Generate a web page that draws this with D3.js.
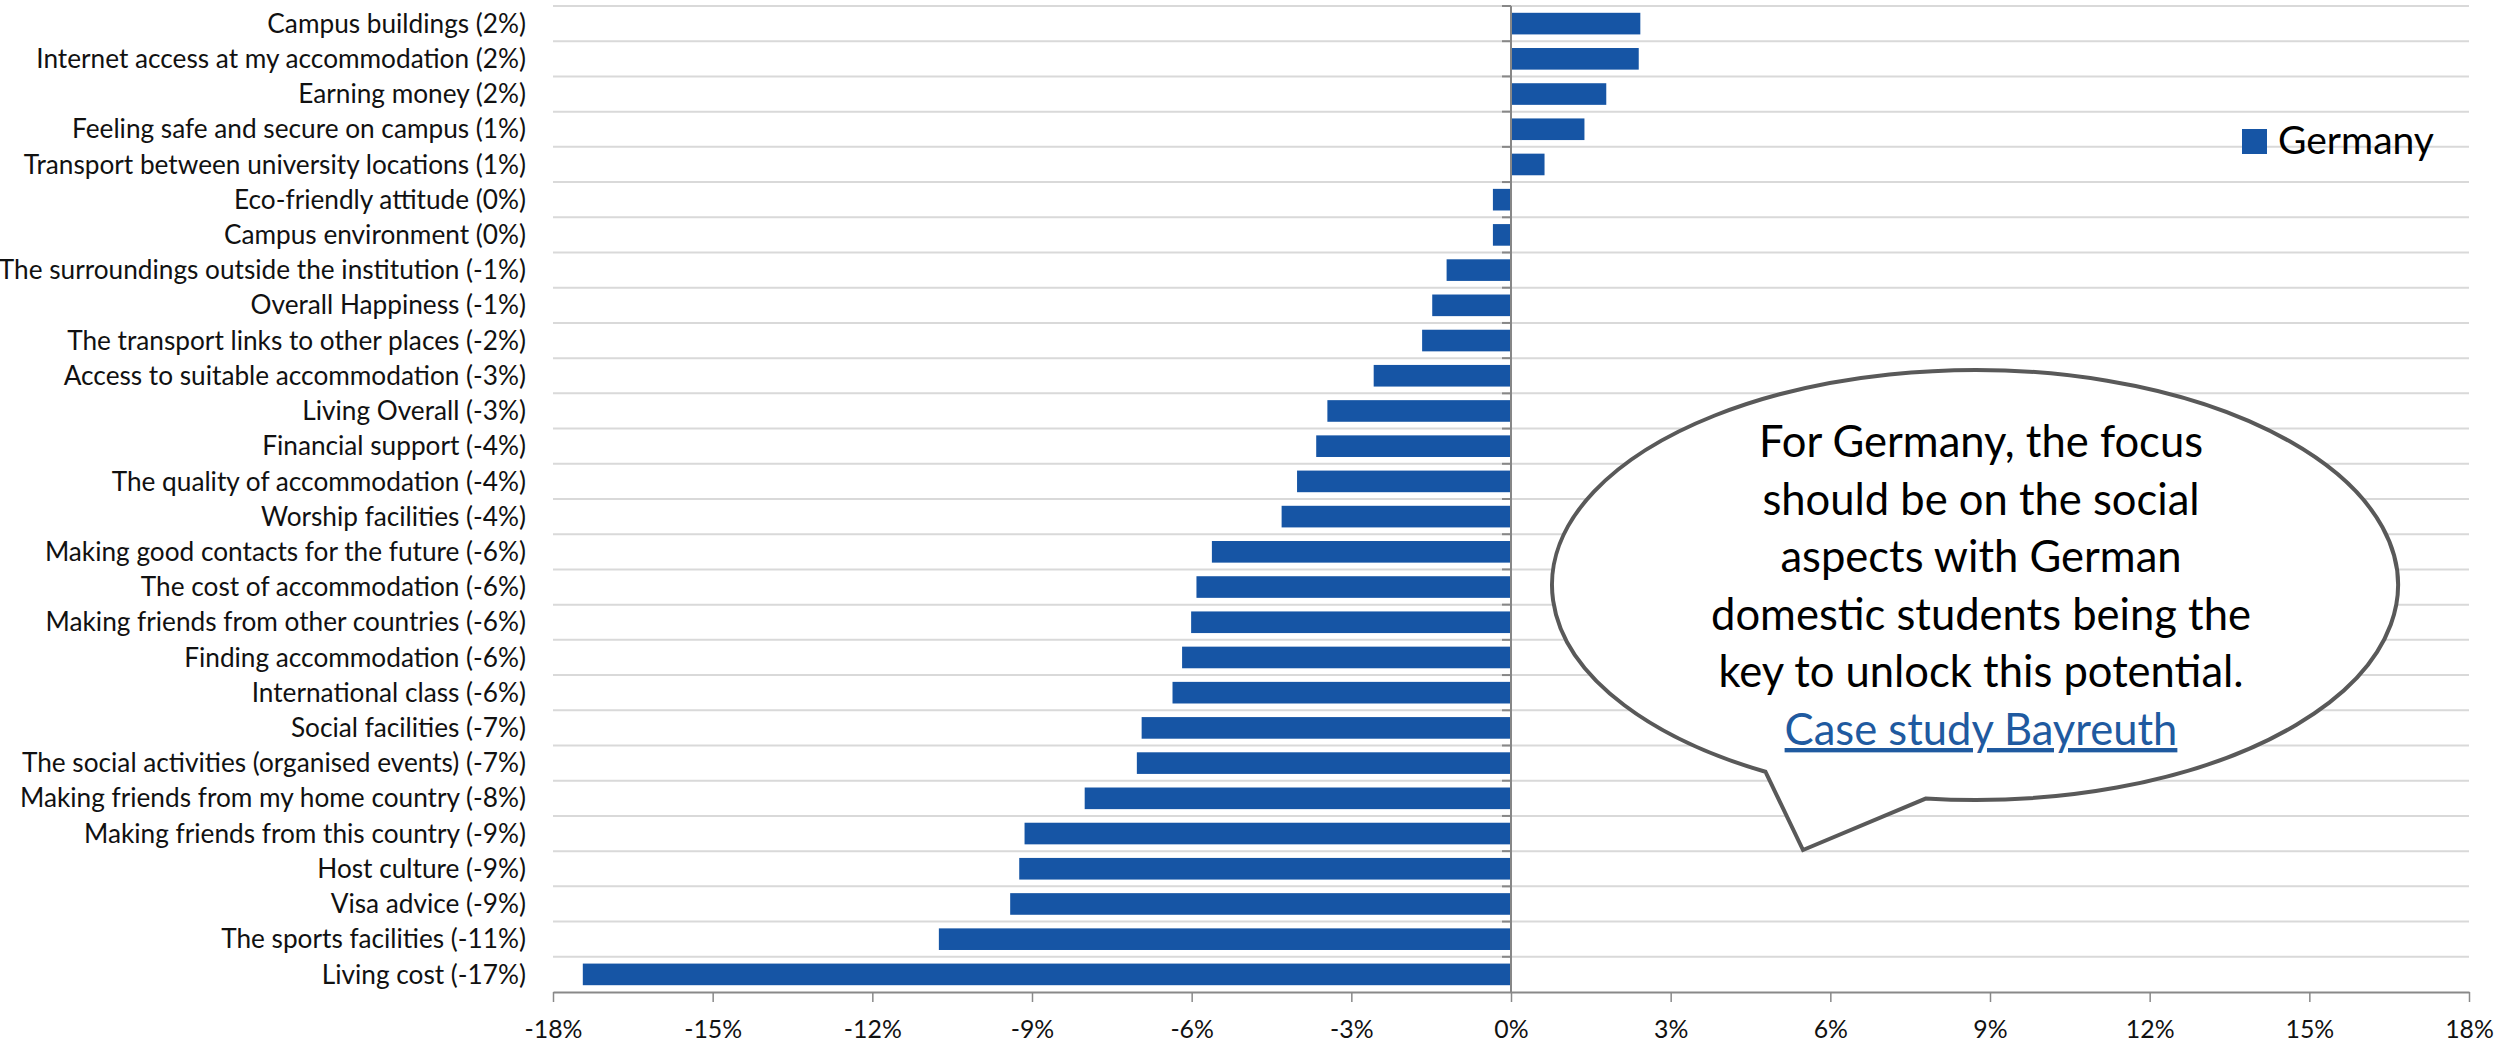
<!DOCTYPE html>
<html>
<head>
<meta charset="utf-8">
<script src="https://cdn.jsdelivr.net/npm/d3@7"></script>
<style>
  html, body { margin: 0; padding: 0; background: #fff; }
  svg { display: block; }
</style>
</head>
<body>
<div id="chart"></div>
<script>
// Change in satisfaction by aspect, Germany (percentage points)
const categories = [
  "Campus buildings",
  "Internet access at my accommodation",
  "Earning money",
  "Feeling safe and secure on campus",
  "Transport between university locations",
  "Eco-friendly attitude",
  "Campus environment",
  "The surroundings outside the institution",
  "Overall Happiness",
  "The transport links to other places",
  "Access to suitable accommodation",
  "Living Overall",
  "Financial support",
  "The quality of accommodation",
  "Worship facilities",
  "Making good contacts for the future",
  "The cost of accommodation",
  "Making friends from other countries",
  "Finding accommodation",
  "International class",
  "Social facilities",
  "The social activities (organised events)",
  "Making friends from my home country",
  "Making friends from this country",
  "Host culture",
  "Visa advice",
  "The sports facilities",
  "Living cost"
];

const germany = [
  2.43, 2.40, 1.79, 1.38, 0.63, -0.34, -0.34, -1.21, -1.48, -1.67,
  -2.58, -3.45, -3.66, -4.02, -4.31, -5.62, -5.91, -6.01, -6.18, -6.36,
  -6.94, -7.03, -8.01, -9.14, -9.24, -9.41, -10.75, -17.44
];

const seriesName = "Germany";
const xTicks = [-18, -15, -12, -9, -6, -3, 0, 3, 6, 9, 12, 15, 18];

const calloutLines = [
  "For Germany, the focus",
  "should be on the social",
  "aspects with German",
  "domestic students being the",
  "key to unlock this potential."
];
const calloutLink = "Case study Bayreuth";

const W = 2501, H = 1043;
const FONT = "Lato, 'Open Sans', sans-serif";
const BAR = "#1655a5";

const svg = d3.select("#chart").append("svg")
  .attr("width", W).attr("height", H)
  .style("font-family", FONT);

// pick a font size that makes a sample string span the given width
function fitSize(sample, width) {
  const t = svg.append("text").attr("font-size", 100).text(sample);
  const w = t.node().getComputedTextLength();
  t.remove();
  return 100 * width / w;
}
const labelSize = fitSize("Internet access at my accommodation (2%)", 490);
const tickSize = fitSize("-18%", 58);
const legendSize = fitSize("Germany", 156);
const noteSize = fitSize("domestic students being the", 540);

const x = d3.scaleLinear().domain([-18, 18]).range([553, 2469]);
const y = d3.scaleBand().domain(categories).range([6, 992])
  .paddingInner(0.386).paddingOuter(0.193);

const fmtPct = v => { const r = Math.round(v); return (r === 0 ? 0 : r) + "%"; };

// horizontal gridlines at category boundaries
const bounds = d3.range(categories.length).map(i => y.range()[0] + i * y.step());
svg.append("g").selectAll("line").data(bounds).join("line")
  .attr("x1", x(-18)).attr("x2", x(18))
  .attr("y1", d => d).attr("y2", d => d)
  .attr("stroke", "#d9d9d9").attr("stroke-width", 2);

// bars
svg.append("g").selectAll("rect").data(categories).join("rect")
  .attr("x", (c, i) => x(Math.min(0, germany[i])))
  .attr("width", (c, i) => Math.abs(x(germany[i]) - x(0)))
  .attr("y", c => y(c))
  .attr("height", y.bandwidth())
  .attr("fill", BAR);

// category labels on the left
svg.append("g").selectAll("text").data(categories).join("text")
  .attr("x", 526)
  .attr("y", c => y(c) + y.bandwidth() / 2)
  .attr("dy", "0.35em")
  .attr("text-anchor", "end")
  .attr("font-size", labelSize)
  .attr("fill", "#111")
  .text((c, i) => `${c} (${fmtPct(germany[i])})`);

// vertical category axis at zero with outward ticks
const yAxisG = svg.append("g");
yAxisG.append("line")
  .attr("x1", x(0)).attr("x2", x(0))
  .attr("y1", y.range()[0]).attr("y2", y.range()[1])
  .attr("stroke", "#878787").attr("stroke-width", 2);
yAxisG.selectAll("line.tick").data(bounds).join("line")
  .attr("class", "tick")
  .attr("x1", x(0) - 9).attr("x2", x(0))
  .attr("y1", d => d).attr("y2", d => d)
  .attr("stroke", "#878787").attr("stroke-width", 2);

// value axis at the bottom
const xAxis = d3.axisBottom(x).tickValues(xTicks)
  .tickFormat(d => d + "%").tickSize(10).tickSizeOuter(0);
const xg = svg.append("g").attr("transform", `translate(0,${y.range()[1]})`).call(xAxis);
xg.select(".domain").attr("stroke", "#898989").attr("stroke-width", 2);
xg.selectAll(".tick line").attr("stroke", "#898989").attr("stroke-width", 1.5);
xg.selectAll(".tick text")
  .attr("y", 46).attr("dy", 0)
  .attr("font-family", FONT).attr("font-size", tickSize).attr("fill", "#111");

// legend
const lg = svg.append("g").attr("transform", "translate(2242,129)");
lg.append("rect").attr("width", 25).attr("height", 25).attr("fill", BAR);
lg.append("text").attr("x", 36).attr("y", 25)
  .attr("font-size", legendSize).attr("fill", "#000").text(seriesName);

// speech-bubble callout
const cx = 1975, cy = 585, rx = 423, ry = 215;
const pt = deg => [cx + rx * Math.cos(deg * Math.PI / 180), cy + ry * Math.sin(deg * Math.PI / 180)];
const tailA = pt(96.7), tailB = pt(119.7), tip = [1803, 850];
const bubble = `M${tailA[0]},${tailA[1]} A${rx},${ry} 0 1 0 ${tailB[0]},${tailB[1]} L${tip[0]},${tip[1]} Z`;
svg.append("path").attr("d", bubble)
  .attr("fill", "#fff").attr("stroke", "#595959").attr("stroke-width", 4)
  .attr("stroke-linejoin", "miter");

const tg = svg.append("g").attr("text-anchor", "middle").attr("font-size", noteSize);
tg.selectAll("text.line").data(calloutLines).join("text")
  .attr("class", "line")
  .attr("x", 1981).attr("y", (d, i) => 457 + i * 57.6)
  .attr("fill", "#000").text(d => d);
tg.append("text")
  .attr("x", 1981).attr("y", 457 + calloutLines.length * 57.6)
  .attr("fill", "#1f5aa0")
  .attr("text-decoration", "underline")
  .text(calloutLink);
</script>
</body>
</html>
